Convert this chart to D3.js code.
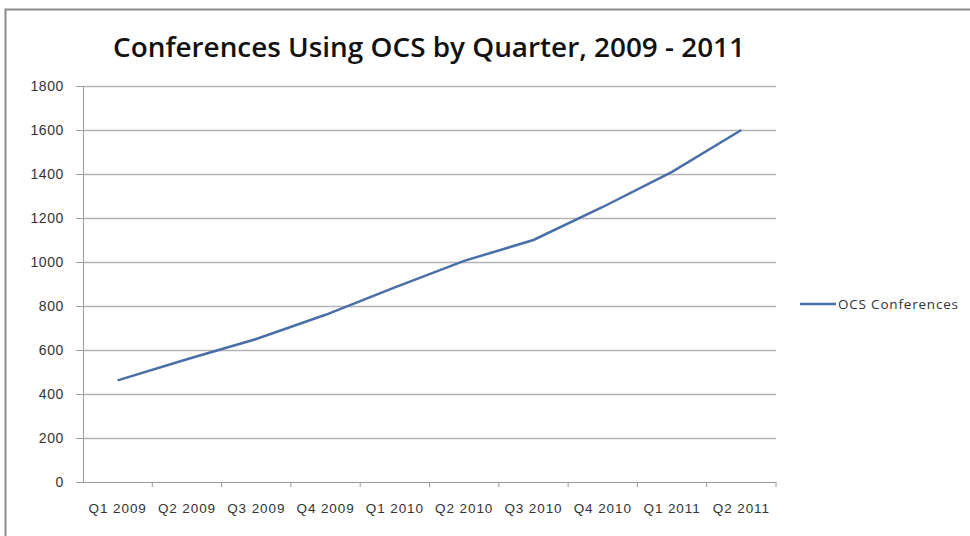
<!DOCTYPE html>
<meta charset="utf-8">
<body style="margin:0;background:#fff">
</body>
<script src="https://d3js.org/d3.v7.min.js"></script>
<script>

// chart data
var quarters = ["Q1 2009", "Q2 2009", "Q3 2009", "Q4 2009", "Q1 2010", "Q2 2010", "Q3 2010", "Q4 2010", "Q1 2011", "Q2 2011"];
var conferences = [462, 558, 650, 760, 885, 1005, 1100, 1250, 1410, 1600];
var yTicks = [0, 200, 400, 600, 800, 1000, 1200, 1400, 1600, 1800];
var seriesName = "OCS Conferences";
var titleText = "Conferences Using OCS by Quarter, 2009 - 2011";

var width = 970, height = 536;
var margin = {top: 86, left: 83, right: 194, bottom: 54};

var svg = d3.select("body").append("svg")
  .attr("width", width)
  .attr("height", height)
  .style("font-family", "'Open Sans', 'Noto Sans', sans-serif");

// outer frame (only top and left edges show in the picture)
svg.append("rect")
  .attr("x", 5.5).attr("y", 9.5)
  .attr("width", width + 20).attr("height", height + 20)
  .attr("fill", "none")
  .attr("stroke", "#8c8c8c")
  .attr("stroke-width", 2);

var x = d3.scaleBand()
  .domain(quarters)
  .range([margin.left, width - margin.right]);

var y = d3.scaleLinear()
  .domain([0, 1800])
  .range([height - margin.bottom, margin.top]);

// gridlines
svg.append("g")
  .selectAll("line")
  .data(yTicks.slice(1))
  .enter()
  .append("line")
  .attr("x1", margin.left)
  .attr("x2", width - margin.right)
  .attr("y1", function(d){ return Math.round(y(d)) + 0.5; })
  .attr("y2", function(d){ return Math.round(y(d)) + 0.5; })
  .attr("stroke", "#b4b4b4")
  .attr("stroke-width", 1.5);

// y axis
var yAxis = svg.append("g")
  .attr("transform", "translate(" + margin.left + ",0)")
  .call(d3.axisLeft(y).tickValues(yTicks).tickFormat(d3.format("d")).tickSize(7).tickPadding(12));
yAxis.select(".domain").attr("stroke", "#9a9a9a");
yAxis.selectAll(".tick line").attr("stroke", "#9a9a9a");
yAxis.selectAll("text")
  .attr("fill", "#333")
  .style("font-size", "14px")
  .style("letter-spacing", "0.6px");

// x axis, ticks at category boundaries
var xAxis = svg.append("g")
  .attr("transform", "translate(0," + (height - margin.bottom) + ")")
  .call(d3.axisBottom(x).tickSize(0).tickPadding(21));
xAxis.select(".domain").attr("stroke", "#9a9a9a");
xAxis.selectAll("text")
  .attr("fill", "#333")
  .style("font-size", "13.5px")
  .style("letter-spacing", "0.9px");
svg.append("g")
  .selectAll("line")
  .data(quarters)
  .enter()
  .append("line")
  .attr("x1", function(d){ return x(d) + x.bandwidth(); })
  .attr("x2", function(d){ return x(d) + x.bandwidth(); })
  .attr("y1", height - margin.bottom)
  .attr("y2", height - margin.bottom + 5)
  .attr("stroke", "#9a9a9a");

// series line
var line = d3.line()
  .x(function(d, i){ return x(quarters[i]) + x.bandwidth() / 2; })
  .y(function(d){ return y(d); });

svg.append("path")
  .datum(conferences)
  .attr("d", line)
  .attr("fill", "none")
  .attr("stroke", "#4a6fa8")
  .attr("stroke-width", 2.5);

// title
svg.append("text")
  .attr("x", 429)
  .attr("y", 57)
  .attr("text-anchor", "middle")
  .attr("textLength", 632)
  .attr("lengthAdjust", "spacingAndGlyphs")
  .attr("fill", "#111")
  .style("font-size", "27px")
  .style("font-weight", "600")
  .text(titleText);

// legend
var legendY = 304;
svg.append("line")
  .attr("x1", 800).attr("x2", 836)
  .attr("y1", legendY).attr("y2", legendY)
  .attr("stroke", "#4a6fa8")
  .attr("stroke-width", 2.5);
svg.append("text")
  .attr("x", 838)
  .attr("y", legendY + 5)
  .attr("fill", "#333")
  .style("font-size", "13.5px")
  .style("letter-spacing", "0.8px")
  .text(seriesName);

</script>
